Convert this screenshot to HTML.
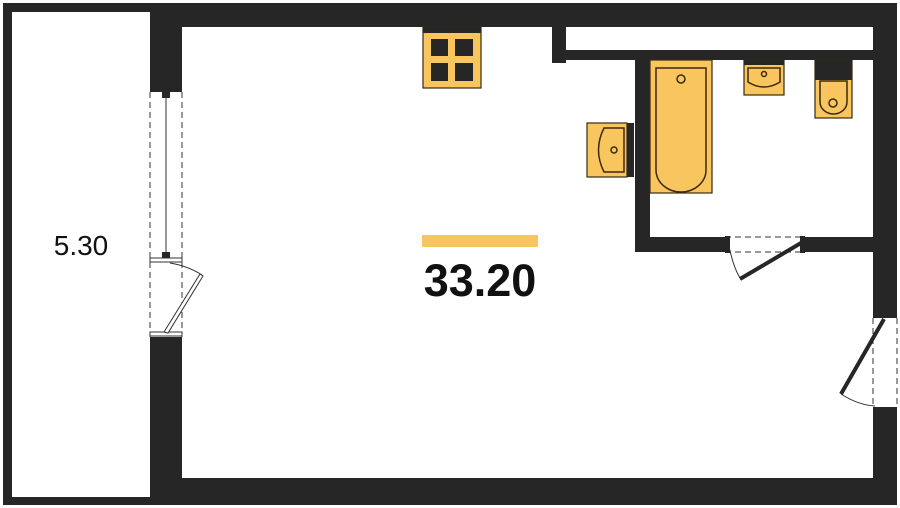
<!DOCTYPE html>
<html><head><style>
body{margin:0;background:#fff;width:900px;height:508px;overflow:hidden}
svg{display:block}
</style></head><body>
<svg width="900" height="508" viewBox="0 0 900 508" xmlns="http://www.w3.org/2000/svg">
<g fill="#262626">
<!-- outer frame -->
<rect x="3" y="3" width="894" height="24"/>
<rect x="3" y="3" width="9" height="502"/>
<rect x="3" y="497" width="894" height="8"/>
<rect x="150" y="478" width="747" height="27"/>
<rect x="873" y="3" width="24" height="310"/>
<rect x="873" y="410" width="24" height="95"/>
<!-- left wall between balcony and room -->
<rect x="150" y="3" width="32" height="85"/>
<rect x="150" y="337" width="32" height="168"/>
<!-- corridor strip partitions -->
<rect x="552" y="27" width="14" height="36"/>
<rect x="552" y="50" width="321" height="10"/>
<!-- bathroom walls -->
<rect x="635" y="60" width="15" height="192"/>
<rect x="635" y="237" width="90" height="15"/>
<rect x="805" y="237" width="68" height="15"/>
</g>
<rect x="12" y="12" width="138" height="485" fill="#fff"/>
<rect x="566" y="27" width="307" height="23" fill="#fff"/>
<!-- left window/door -->
<g stroke="#333" fill="none">
<line x1="150" y1="92" x2="150" y2="337" stroke-dasharray="6,4"/>
<line x1="182" y1="92" x2="182" y2="337" stroke-dasharray="6,4"/>
<line x1="166" y1="95" x2="166" y2="255"/>
<rect x="150" y="258" width="32" height="4" fill="#fff"/>
<rect x="150" y="332" width="32" height="4" fill="#fff"/>
<polygon points="164,332 200,274 203,276 168,333" fill="#fff"/>
<path d="M170 263 Q188 266 202 275"/>
</g>
<rect x="150" y="87" width="32" height="5" fill="#262626"/>
<rect x="162" y="92" width="8" height="6" fill="#262626"/>
<rect x="162" y="252" width="8" height="6" fill="#262626"/>
<!-- bathroom door -->
<g stroke="#333" fill="none">
<line x1="725" y1="237" x2="805" y2="237" stroke-dasharray="6,4"/>
<line x1="725" y1="252" x2="805" y2="252" stroke-dasharray="6,4"/>
<path d="M730 250 Q733 266 740 278"/>
</g>
<rect x="725" y="236" width="5" height="17" fill="#262626"/>
<rect x="800" y="236" width="5" height="17" fill="#262626"/>
<line x1="740" y1="279" x2="801" y2="243" stroke="#262626" stroke-width="4"/>
<!-- right door -->
<g stroke="#333" fill="none">
<line x1="873" y1="318" x2="873" y2="408" stroke-dasharray="6,4"/>
<line x1="897" y1="318" x2="897" y2="408" stroke-dasharray="6,4"/>
<path d="M841 394 Q858 405 875 406"/>
</g>
<rect x="873" y="313" width="24" height="5" fill="#262626"/>
<rect x="873" y="407" width="24" height="5" fill="#262626"/>
<line x1="884" y1="319" x2="841" y2="394" stroke="#262626" stroke-width="4"/>
<!-- fixtures -->
<g stroke="#3a2a10" stroke-width="1.2" fill="#f9c55e">
<rect x="423" y="27" width="58" height="61"/>
<rect x="650" y="60" width="62" height="133"/>
<rect x="587" y="123" width="40" height="54"/>
<rect x="744" y="60" width="40" height="35"/>
<rect x="815" y="60" width="37" height="58"/>
</g>
<rect x="423" y="27" width="58" height="6" fill="#262626"/>
<g fill="#262626">
<rect x="431" y="39" width="17" height="17"/><rect x="455" y="39" width="18" height="17"/>
<rect x="431" y="63" width="17" height="18"/><rect x="455" y="63" width="18" height="18"/>
<rect x="627" y="123" width="7" height="54"/>
<rect x="744" y="60" width="40" height="5"/>
<rect x="815" y="60" width="37" height="20"/>
</g>
<g stroke="#3a2a10" stroke-width="1.5" fill="none">
<path d="M656 68 H706 V170 A25 22 0 0 1 656 170 Z"/>
<circle cx="681" cy="79" r="4"/>
<path d="M624 128 H604 Q593 150 604 172 H624 Z"/>
<circle cx="614" cy="150" r="3"/>
<path d="M748 68 H780 V82 Q764 92 748 82 Z"/>
<circle cx="764" cy="74" r="2.5"/>
<path d="M820 81 H847 V102 A13.5 12 0 0 1 820 102 Z"/>
<circle cx="833" cy="103" r="4"/>
</g>
<rect x="422" y="235" width="116" height="12" fill="#f9c55e"/>
<text x="480" y="296" text-anchor="middle" font-family="Liberation Sans, sans-serif" font-weight="bold" font-size="45" fill="#111">33.20</text>
<text x="81" y="255" text-anchor="middle" font-family="Liberation Sans, sans-serif" font-size="28" fill="#111">5.30</text>
</svg>
</body></html>
